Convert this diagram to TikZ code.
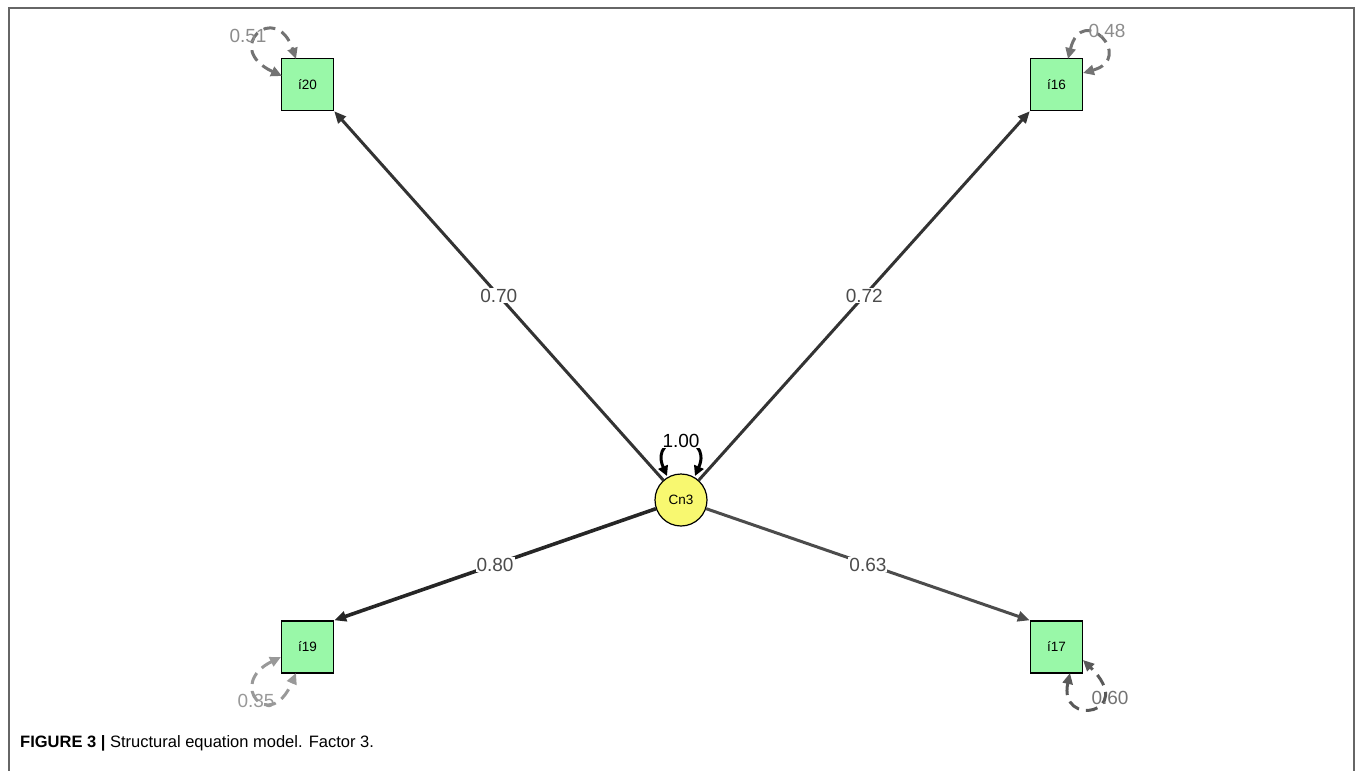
\documentclass[tikz,border=0pt]{standalone}
\usepackage{fontspec}
\setmainfont{Liberation Sans}
\usetikzlibrary{arrows.meta}
\definecolor{boxgreen}{HTML}{99F8A8}
\definecolor{latyellow}{HTML}{F8F870}
\definecolor{edgedark}{HTML}{333333}
\tikzset{
  manifest/.style={rectangle, draw=black, line width=1.4pt, fill=boxgreen, minimum size=52pt, inner sep=0pt, font=\fontsize{13.5}{13.5}\selectfont},
  latent/.style={circle, draw=black, line width=1.2pt, fill=latyellow, minimum size=52pt, inner sep=0pt, font=\fontsize{13.5}{13.5}\selectfont},
  loading/.style={line width=3pt, color=edgedark, -{Triangle[length=12pt,width=10pt]}},
  loadlab/.style={fill=white, inner sep=1pt, text=black!70, font=\fontsize{19}{19}\selectfont},
  resid/.style={line width=3pt, dashed, dash pattern=on 12pt off 7pt, {Triangle[length=11pt,width=10pt]}-{Triangle[length=11pt,width=10pt]}},
  residlab/.style={inner sep=1pt, font=\fontsize{19}{19}\selectfont},
  frameline/.style={line width=1.5pt, color=black!60}
}
\begin{document}
\begin{tikzpicture}[x=1pt,y=-1pt]
\useasboundingbox (0,0) rectangle (1355,771);
\draw[frameline] (9,771) -- (9,8) -- (1354,8) -- (1354,771);
% nodes
\node[manifest] (i20) at (307.5,84.5) {í20};
\node[manifest] (i16) at (1056.5,84.5) {í16};
\node[manifest] (i19) at (307.5,647) {í19};
\node[manifest] (i17) at (1056.5,647) {í17};
\node[latent] (cn3) at (681,500) {Cn3};
% loadings
\draw[loading] (cn3) -- (i20.south east) node[loadlab, pos=0.5] {0.70};
\draw[loading] (cn3) -- (i16.south west) node[loadlab, pos=0.5] {0.72};
\draw[loading, line width=3.6pt, color=black!85] (cn3) -- (i19.north east) node[loadlab, pos=0.5] {0.80};
\draw[loading, color=black!70] (cn3) -- (i17.north west) node[loadlab, pos=0.5] {0.63};
% latent variance
\coordinate (cl) at (667,476);
\coordinate (cr) at (695,476);
\draw[line width=3pt, black, {Triangle[length=10pt,width=10pt]}-{Triangle[length=10pt,width=10pt]}] (cl) .. controls (648,432) and (714,432) .. (cr);
\node[fill=white, inner sep=0.5pt, font=\fontsize{19}{19}\selectfont] (v1) at (681,441) {1.00};
% residuals
\coordinate (a20) at (282,76);
\coordinate (b20) at (296,59);
\draw[resid, color=black!55] (a20) .. controls (222,48) and (276,0) .. (b20);
\node[residlab, text=black!45] (r20) at (248,36) {0.51};
\coordinate (a16) at (1068,59);
\coordinate (b16) at (1083,73);
\draw[resid, color=black!55] (a16) .. controls (1082,2) and (1136,58) .. (b16);
\node[residlab, text=black!45] (r16) at (1107,31) {0.48};
\coordinate (a19) at (281,657);
\coordinate (b19) at (296,673);
\draw[resid, color=black!40] (a19) .. controls (226,684) and (270,734) .. (b19);
\node[residlab, text=black!40] (r19) at (256,701) {0.35};
\coordinate (a17) at (1083,660);
\coordinate (b17) at (1070,673);
\draw[resid, color=black!65] (b17) .. controls (1058,728) and (1138,714) .. (a17);
\node[residlab, text=black!55] (r17) at (1110,698) {0.60};
% caption
\node[anchor=base west, inner sep=0pt, font=\fontsize{16.5}{16.5}\selectfont] (cap) at (20,747) {\textbf{FIGURE 3 |} Structural equation model. Factor 3.};
\end{tikzpicture}
\end{document}
